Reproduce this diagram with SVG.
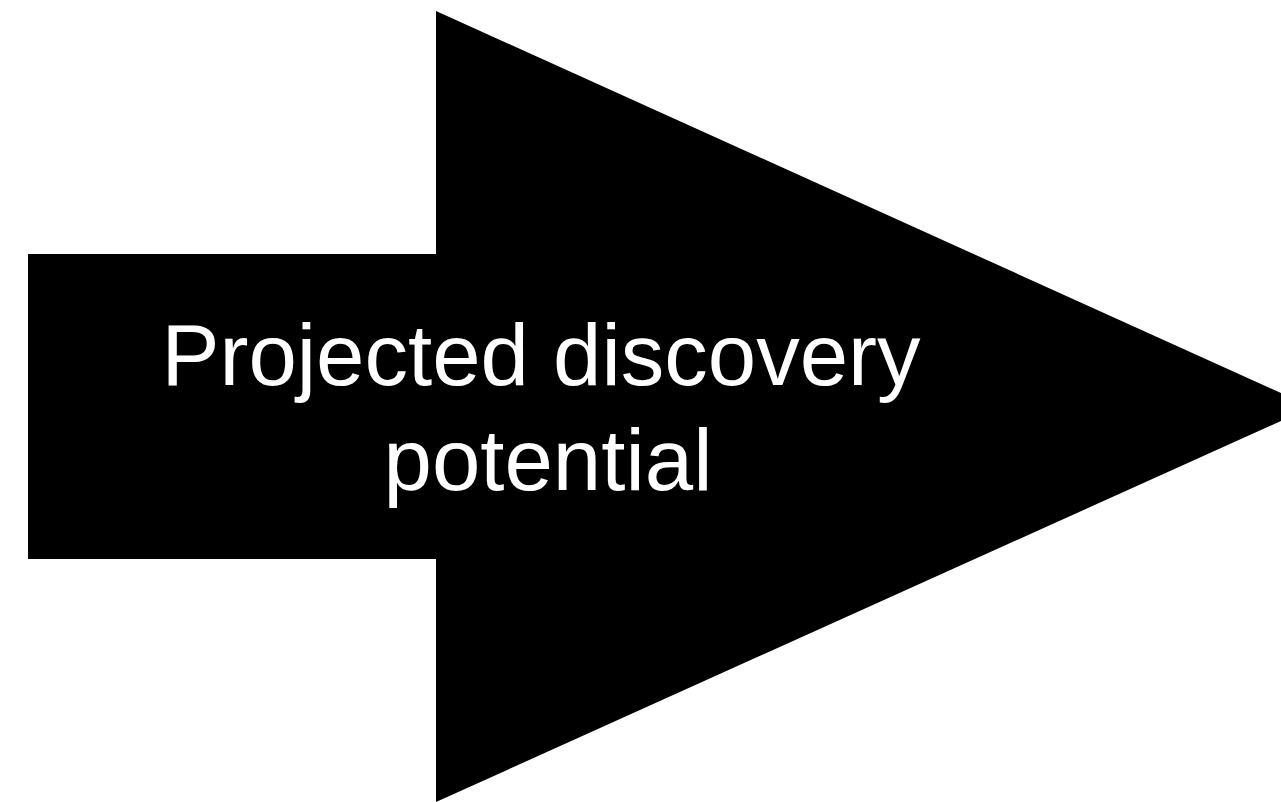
<svg xmlns="http://www.w3.org/2000/svg" width="1281" height="802" viewBox="0 0 1281 802">
  <style>
    .lbl { font-family: "Liberation Sans", Arial, Helvetica, sans-serif; font-size: 87px; fill: #ffffff; text-anchor: middle; }
  </style>
  <rect x="0" y="0" width="1281" height="802" fill="#ffffff"/>
  <g id="arrow">
    <polygon points="28,254 436,254 436,11 1312,407 436,802 436,559 28,559" fill="#000000"/>
    <text class="lbl" x="541" y="385">Projected discovery</text>
    <text class="lbl" x="548" y="490">potential</text>
  </g>
  <g id="connectors"></g>
</svg>
